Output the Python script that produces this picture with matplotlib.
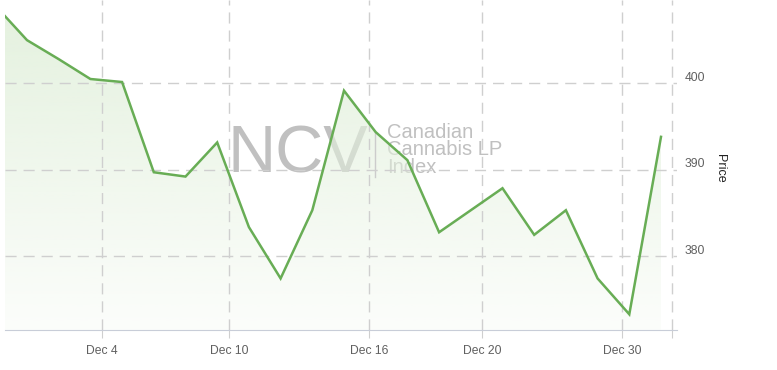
import matplotlib
matplotlib.use("Agg")
import matplotlib.pyplot as plt
import numpy as np
from matplotlib.patches import Polygon
from matplotlib.transforms import offset_copy

# trading sessions (ordinal axis), first one is cut off at the left edge
sessions = ["Nov 28", "Dec 1", "Dec 2", "Dec 3", "Dec 4", "Dec 5", "Dec 8", "Dec 9",
            "Dec 10", "Dec 11", "Dec 12", "Dec 15", "Dec 16", "Dec 17", "Dec 18",
            "Dec 19", "Dec 22", "Dec 23", "Dec 24", "Dec 29", "Dec 30", "Dec 31"]
price = [409.0, 405.0, 402.8, 400.5, 400.15, 389.7, 389.2, 393.15, 383.35, 377.4,
         385.3, 399.15, 394.35, 391.1, 382.75, 385.3, 387.85, 382.45, 385.3, 377.4,
         373.25, 393.8]

tick_labels = ["Dec 4", "Dec 10", "Dec 16", "Dec 20", "Dec 30", ""]
tick_pos = [3.37, 7.37, 11.79, 15.35, 19.77, 21.35]
y_ticks = [380, 390, 400]

x = np.arange(len(price))
line_col = "#68ad55"
grid_col = "#cfcfcf"
font = "Liberation Sans"

fig = plt.figure(figsize=(7.77, 3.70), dpi=100)
ax = fig.add_axes([5 / 777, 40 / 370, 672 / 777, 330 / 370])

ymin, ymax = 371.43, 409.65
ax.set_xlim(0.306, 21.505)
ax.set_ylim(ymin, ymax)

# gradient area under the line
grad = np.zeros((256, 1, 4))
top = np.array([228, 241, 222]) / 255
grad[:, 0, :3] = top
grad[:, 0, 3] = np.linspace(1.0, 0.12, 256)
im = ax.imshow(grad, aspect="auto", extent=[x[0], x[-1], ymin, ymax],
               origin="upper", zorder=1)
verts = [(x[0], ymin)] + list(zip(x, price)) + [(x[-1], ymin)]
clip = Polygon(verts, closed=True, transform=ax.transData, facecolor="none",
               edgecolor="none")
ax.add_patch(clip)
im.set_clip_path(clip)

ax.plot(x, price, color=line_col, lw=1.8, zorder=4, solid_joinstyle="miter")

# watermark
wm = "#c0c0c0"
ax.text(0.331, 0.476, "NCV", transform=ax.transAxes, fontsize=48,
        family=font, color=wm, va="baseline", ha="left", zorder=0.5)
ax.plot([0.5505, 0.5505], [0.464, 0.60], transform=ax.transAxes, color="#cccccc",
        lw=1, zorder=1.5)
for k, s in enumerate(["Canadian", "Cannabis LP", "Index"]):
    ax.text(0.569, 0.582 - k * 0.053, s, transform=ax.transAxes, fontsize=14.5,
            family=font, color=wm, va="baseline", ha="left", zorder=0.5)

# axes styling
ax.set_xticks(tick_pos)
ax.set_xticklabels(tick_labels)
ax.set_yticks(y_ticks)
ax.grid(True, color=grid_col, lw=1, linestyle=(0, (8, 5)), zorder=2)
ax.set_axisbelow(False)
for sp in ["top", "left", "right"]:
    ax.spines[sp].set_visible(False)
ax.spines["bottom"].set_color("#c8cdd8")
ax.spines["bottom"].set_zorder(3)
ax.tick_params(axis="x", length=6, color=grid_col, labelsize=8.7,
               labelcolor="#606060", pad=4.5)
ax.tick_params(axis="y", left=False, right=False, labelleft=False, labelright=True,
               labelsize=8.7, labelcolor="#606060", pad=2)
for lab in ax.get_xticklabels() + ax.get_yticklabels():
    lab.set_family(font)
for lab in ax.get_yticklabels():
    lab.set_transform(offset_copy(lab.get_transform(), fig=fig, x=0, y=7, units="dots"))
ax.yaxis.set_label_position("right")
ax.set_ylabel("Price", rotation=270, fontsize=9, color="#222222", family=font,
              va="center", ha="center")
ax.yaxis.set_label_coords(1.064, 0.49)

fig.savefig("out.png", dpi=100)
